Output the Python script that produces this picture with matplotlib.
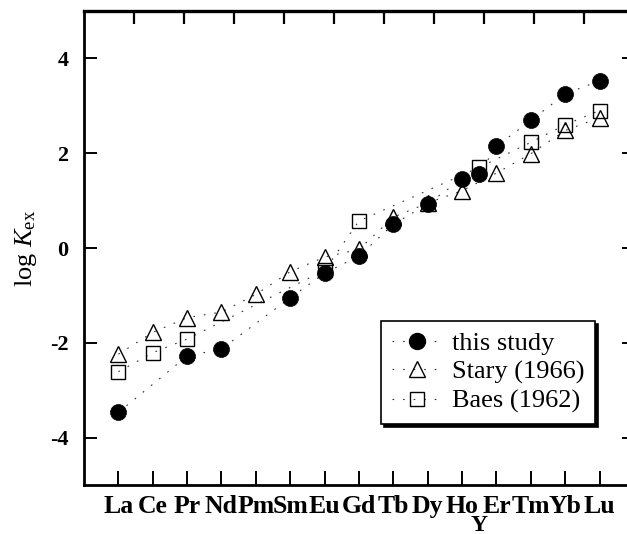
import matplotlib
matplotlib.use("Agg")
import matplotlib.pyplot as plt
from matplotlib.lines import Line2D

plt.rcParams['font.family'] = ['Liberation Serif', 'DejaVu Serif']
plt.rcParams['mathtext.fontset'] = 'custom'
plt.rcParams['mathtext.rm'] = 'Liberation Serif'
plt.rcParams['mathtext.it'] = 'Liberation Serif:italic'
plt.rcParams['axes.unicode_minus'] = False

# ---- data ----
lanthanides = ['La', 'Ce', 'Pr', 'Nd', 'Pm', 'Sm', 'Eu', 'Gd', 'Tb', 'Dy', 'Ho', 'Er', 'Tm', 'Yb', 'Lu']
extra_label = 'Y'

study_el = ['La', 'Pr', 'Nd', 'Sm', 'Eu', 'Gd', 'Tb', 'Dy', 'Ho', 'Y', 'Er', 'Tm', 'Yb', 'Lu']
study_val = [-3.47, -2.28, -2.13, -1.05, -0.53, -0.17, 0.50, 0.93, 1.46, 1.57, 2.15, 2.69, 3.25, 3.53]

stary_el = ['La', 'Ce', 'Pr', 'Nd', 'Pm', 'Sm', 'Eu', 'Gd', 'Tb', 'Dy', 'Ho', 'Er', 'Tm', 'Yb', 'Lu']
stary_val = [-2.24, -1.78, -1.47, -1.35, -0.98, -0.50, -0.19, -0.03, 0.65, 0.95, 1.21, 1.58, 1.99, 2.48, 2.75]

baes_el = ['La', 'Ce', 'Pr', 'Eu', 'Gd', 'Y', 'Tm', 'Yb', 'Lu']
baes_val = [-2.61, -2.21, -1.92, -0.47, 0.57, 1.70, 2.23, 2.60, 2.90]

yticks = [-4, -2, 0, 2, 4]
series_labels = ['this study', 'Stary (1966)', 'Baes (1962)']

# positions along the category axis
pos = {el: i for i, el in enumerate(lanthanides)}
pos['Y'] = (pos['Ho'] + pos['Er']) / 2.0


def xs(els):
    return [pos[e] for e in els]


W, H = 627, 534
fig = plt.figure(figsize=(W / 100, H / 100), dpi=100)
ax = fig.add_axes([84 / W, (H - 485) / H, 550 / W, 474 / H])

dot = (0, (1.5, 8))
lw = 0.8
line_col = '#333333'

ax.plot(xs(baes_el), baes_val, linestyle=dot, color=line_col, lw=lw,
        marker='s', ms=10.5, mfc='none', mec='black', mew=1.0, zorder=2)
ax.plot(xs(stary_el), stary_val, linestyle=dot, color=line_col, lw=lw,
        marker='^', ms=11, mfc='none', mec='black', mew=1.0, zorder=3)
ax.plot(xs(study_el), study_val, linestyle=dot, color=line_col, lw=lw,
        marker='o', ms=11.5, mfc='black', mec='black', mew=0.5, zorder=4)

ax.set_xlim(-1, 15)
ax.set_ylim(-5, 5)

ax.set_xticks(range(len(lanthanides)))
ax.set_xticklabels(lanthanides, fontsize=18.5, fontweight='bold')
ax.set_xticks([pos['Y']], minor=True)
ax.set_xticklabels([extra_label], minor=True, fontsize=17, fontweight='bold')
ax.tick_params(axis='x', which='minor', length=0, pad=21.5)

ax.set_yticks(yticks)
ax.set_yticklabels([str(v) for v in yticks], fontsize=16, fontweight='bold')

ax.tick_params(axis='x', which='major', direction='in', length=10, width=1.4, pad=7)
ax.tick_params(axis='y', which='major', direction='in', length=9, width=1.4, pad=11,
               left=True, right=True)

for side in ['left', 'bottom', 'right']:
    ax.spines[side].set_linewidth(2.0)
ax.spines['top'].set_linewidth(2.4)

ax2 = ax.twiny()
ax2.set_xlim(0, 11)
ax2.set_xticks(range(1, 11))
ax2.set_xticklabels([])
ax2.tick_params(axis='x', direction='in', length=9, width=1.6)
for s in ax2.spines.values():
    s.set_visible(False)

ax.set_ylabel(r'log $K_{\rm ex}$', fontsize=19)
ax.yaxis.set_label_coords(-0.082, 0.5)

handles = [
    Line2D([], [], linestyle=dot, color=line_col, lw=lw, marker='o', ms=11.5, mfc='black', mec='black'),
    Line2D([], [], linestyle=dot, color=line_col, lw=lw, marker='^', ms=11, mfc='none', mec='black', mew=1.0),
    Line2D([], [], linestyle=dot, color=line_col, lw=lw, marker='s', ms=10, mfc='none', mec='black', mew=1.0),
]
leg = ax.legend(handles, series_labels, loc='lower left', bbox_to_anchor=(0.54, 0.129),
                borderaxespad=0, fontsize=19, frameon=True, fancybox=False,
                handlelength=1.9, handletextpad=0.4, labelspacing=0.2, borderpad=0.4,
                shadow={'facecolor': 'black', 'edgecolor': 'black', 'alpha': 1.0})
leg.get_frame().set_edgecolor('black')
leg.get_frame().set_linewidth(1.2)
leg.get_frame().set_alpha(1)

fig.savefig('out.png', dpi=100)
